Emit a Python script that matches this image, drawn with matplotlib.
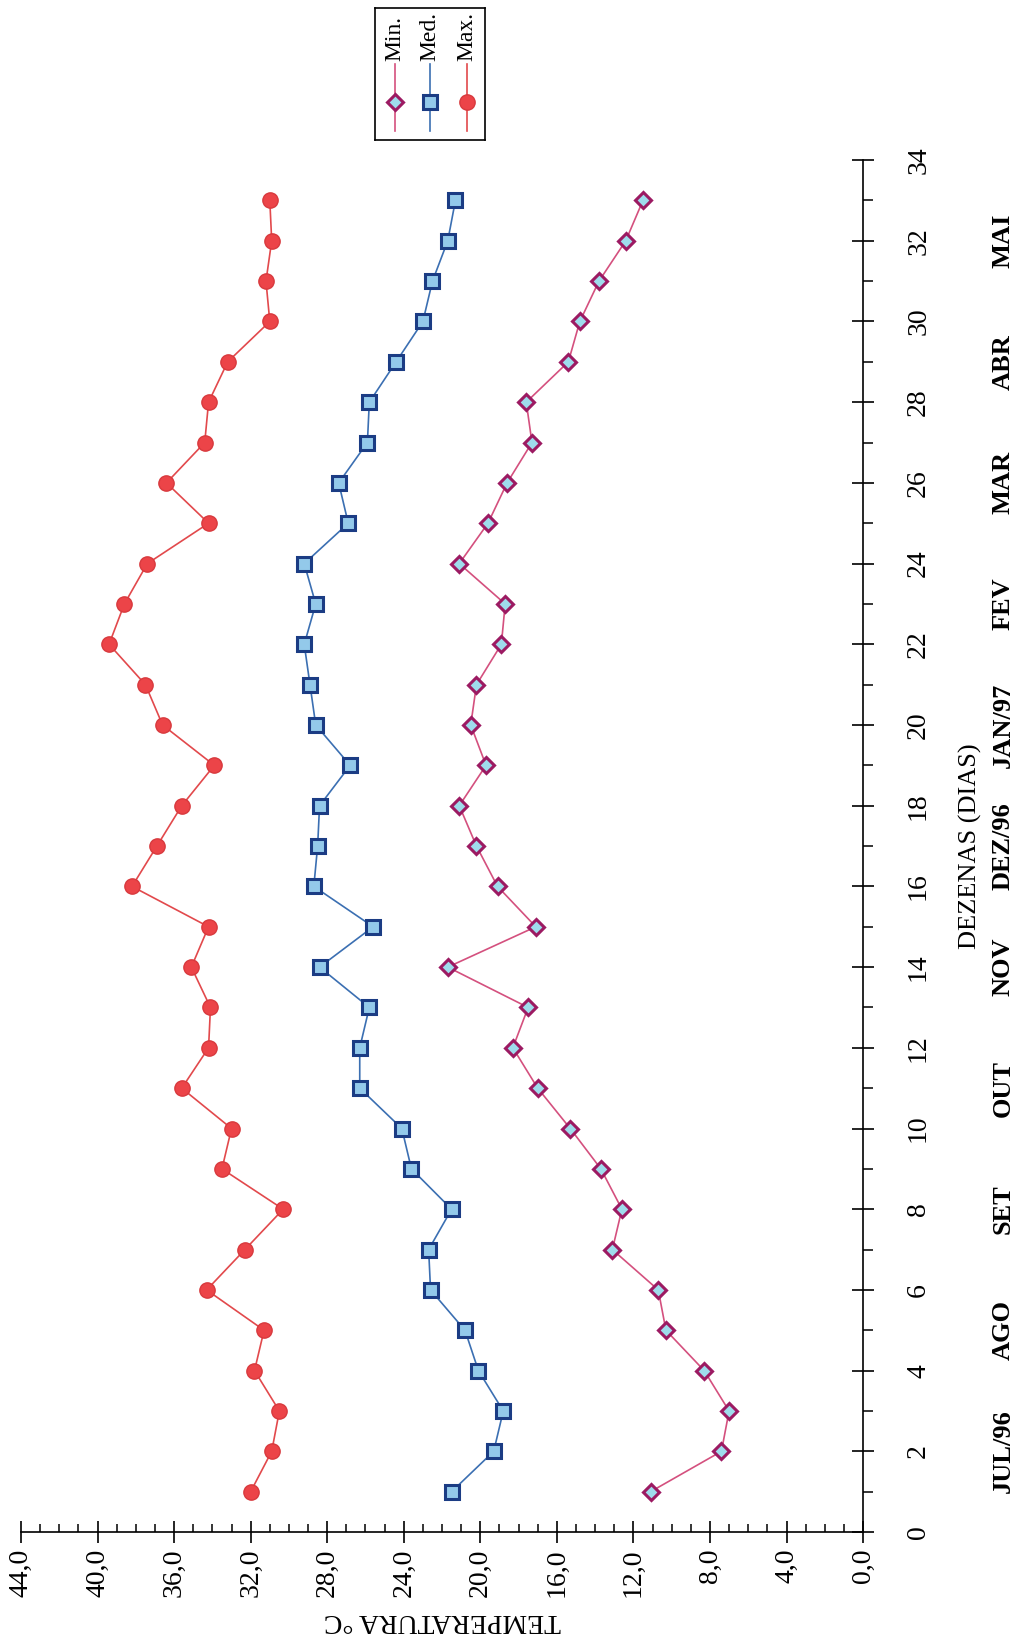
"""
Temperaturas minima, media e maxima por dezena (JUL/96 - MAI/97).
Grafico desenhado na orientacao da pagina digitalizada (rodado 90 graus).
"""

import matplotlib
matplotlib.use("Agg")
import matplotlib.pyplot as plt
from matplotlib.ticker import MultipleLocator, FuncFormatter

plt.rcParams['font.family'] = ['Liberation Serif', 'DejaVu Serif']

# Dados
dezenas = list(range(1, 34))

t_max = [32.0, 30.9, 30.5, 31.8, 31.3, 34.3, 32.3, 30.3, 33.5, 33.0,
         35.6, 34.2, 34.1, 35.1, 34.2, 38.2, 36.9, 35.6, 33.9, 36.6,
         37.5, 39.4, 38.6, 37.4, 34.2, 36.4, 34.4, 34.2, 33.2, 31.0,
         31.2, 30.9, 31.0]

t_med = [21.5, 19.3, 18.8, 20.1, 20.8, 22.6, 22.7, 21.5, 23.6, 24.1,
         26.3, 26.3, 25.8, 28.4, 25.6, 28.7, 28.5, 28.4, 26.8, 28.6,
         28.9, 29.2, 28.6, 29.2, 26.9, 27.4, 25.9, 25.8, 24.4, 23.0,
         22.5, 21.7, 21.3]

t_min = [11.1, 7.4, 7.0, 8.3, 10.3, 10.7, 13.1, 12.6, 13.7, 15.3,
         17.0, 18.3, 17.5, 21.7, 17.1, 19.1, 20.2, 21.1, 19.7, 20.5,
         20.2, 18.9, 18.7, 21.1, 19.6, 18.6, 17.3, 17.6, 15.4, 14.8,
         13.8, 12.4, 11.5]

meses = ['JUL/96', 'AGO', 'SET', 'OUT', 'NOV', 'DEZ/96', 'JAN/97',
         'FEV', 'MAR', 'ABR', 'MAI']
meses_pos = [2, 5, 8, 11, 14, 17, 20, 23, 26, 29, 32]

# estilos das series
series = [
    {"nome": "Min.", "valores": t_min, "linha": "#d4507e", "marker": "D",
     "face": "#9fdcec", "borda": "#9c1a62", "ms": 8, "mew": 2.2},
    {"nome": "Med.", "valores": t_med, "linha": "#3b6fb2", "marker": "s",
     "face": "#93c9ea", "borda": "#1b3c84", "ms": 9.5, "mew": 2.2},
    {"nome": "Max.", "valores": t_max, "linha": "#e2494c", "marker": "o",
     "face": "#ec4448", "borda": "#d8393d", "ms": 11, "mew": 1.0},
]

fig = plt.figure(figsize=(10.25, 16.47), dpi=100)
ax = fig.add_axes([0.0205, 0.0698, 0.8215, 0.8330])

# eixo horizontal = temperatura (invertido), eixo vertical = dezenas
for s in series:
    ax.plot(s["valores"], dezenas, color=s["linha"], lw=1.2,
            marker=s["marker"], ms=s["ms"], mfc=s["face"],
            mec=s["borda"], mew=s["mew"], zorder=3)

ax.set_xlim(44, 0)
ax.set_ylim(0, 34)

ax.spines['left'].set_visible(False)
ax.spines['top'].set_visible(False)
ax.spines['bottom'].set_linewidth(1.2)
ax.spines['right'].set_linewidth(1.2)

ax.xaxis.set_major_locator(MultipleLocator(4))
ax.xaxis.set_minor_locator(MultipleLocator(1))
ax.xaxis.set_major_formatter(FuncFormatter(lambda v, p: f"{v:.1f}".replace('.', ',')))
ax.tick_params(axis='x', which='major', direction='inout', length=16, width=1.2,
               labelsize=20, labelrotation=90, pad=4)
ax.tick_params(axis='x', which='minor', direction='in', length=6, width=1.1)

ax.yaxis.tick_right()
ax.yaxis.set_major_locator(MultipleLocator(2))
ax.yaxis.set_minor_locator(MultipleLocator(1))
ax.tick_params(axis='y', which='major', direction='inout', length=16, width=1.2,
               labelsize=20, labelrotation=90, pad=32)
ax.tick_params(axis='y', which='minor', direction='out', length=7, width=1.1)
for lab in ax.get_yticklabels():
    lab.set_verticalalignment('center')
    lab.set_horizontalalignment('center')

ax.set_xlabel('TEMPERATURA °C', fontsize=20, rotation=180, labelpad=8)
ax.yaxis.set_label_position('right')
ax.set_ylabel('DEZENAS (DIAS)', fontsize=19, rotation=90, labelpad=20)

# meses
for m, pos in zip(meses, meses_pos):
    ax.text(1.166, pos, m, transform=ax.get_yaxis_transform(), rotation=90,
            ha='center', va='center', fontsize=19, fontweight='bold',
            clip_on=False)

# legenda (rodada, desenhada a mao)
lg = fig.add_axes([0.366, 0.915, 0.107, 0.080])
lg.set_xlim(0, 1)
lg.set_ylim(0, 1)
lg.set_xticks([])
lg.set_yticks([])
for sp in lg.spines.values():
    sp.set_linewidth(1.2)
for s, xc in zip(series, [0.18, 0.5, 0.84]):
    lg.plot([xc, xc], [0.07, 0.58], color=s["linha"], lw=1.2)
    lg.plot([xc], [0.29], marker=s["marker"], ms=s["ms"], mfc=s["face"],
            mec=s["borda"], mew=s["mew"], color=s["linha"])
    lg.text(xc, 0.60, s["nome"], rotation=90, ha='center', va='bottom',
            fontsize=17)

fig.savefig("out.png", dpi=100)
